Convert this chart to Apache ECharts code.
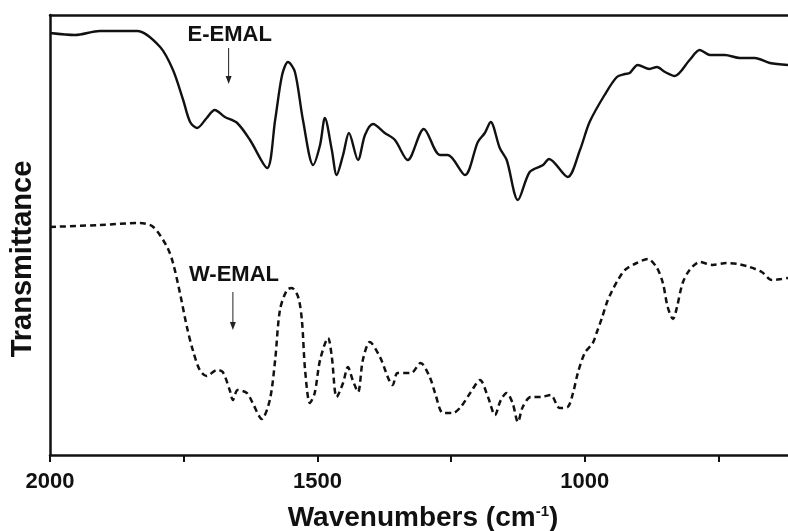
<!DOCTYPE html>
<html>
<head>
<meta charset="utf-8">
<script src="https://cdn.jsdelivr.net/npm/echarts@6/dist/echarts.min.js"></script>
<style>
  html, body { margin: 0; padding: 0; background: #fff; }
  #main { width: 788px; height: 531px; }
</style>
</head>
<body>
<div id="main"></div>
<script>
// wavenumber (cm-1), transmittance (arbitrary units)
var eEmalWn = [2000, 1953, 1907, 1837, 1794, 1770, 1751, 1738, 1725, 1707, 1692, 1673, 1650, 1626, 1594,
  1579, 1566, 1555, 1542, 1527, 1508, 1495, 1486, 1473, 1464, 1452, 1441, 1424, 1411, 1396, 1374, 1355,
  1331, 1301, 1271, 1256, 1224, 1200, 1187, 1176, 1159, 1146, 1125, 1103, 1078, 1067, 1032, 1009, 991,
  963, 940, 925, 916, 901, 879, 865, 850, 832, 804, 785, 766, 738, 710, 682, 654, 620];
var eEmalT = [422, 420, 424, 424, 408, 385, 355, 333, 327, 337, 345, 338, 332, 315, 287,
  335, 380, 393, 383, 335, 290, 310, 337, 305, 280, 300, 322, 295, 320, 331, 322, 315,
  295, 326, 300, 300, 280, 313, 322, 333, 307, 295, 255, 283, 290, 296, 278, 305, 333,
  360, 378, 381, 382, 390, 386, 388, 383, 379, 395, 405, 400, 400, 397, 397, 392, 390];

var wEmalWn = [2000, 1907, 1832, 1807, 1781, 1770, 1757, 1744, 1733, 1720, 1707, 1688, 1677, 1664, 1658,
  1649, 1632, 1621, 1604, 1589, 1579, 1570, 1557, 1548, 1536, 1529, 1523, 1514, 1505, 1495, 1480, 1473,
  1464, 1452, 1443, 1434, 1424, 1415, 1402, 1383, 1359, 1350, 1325, 1307, 1290, 1280, 1265, 1247, 1232,
  1213, 1196, 1181, 1168, 1157, 1146, 1135, 1125, 1116, 1101, 1082, 1064, 1047, 1032, 1022, 1013, 1000,
  985, 978, 968, 959, 950, 938, 925, 903, 882, 865, 854, 845, 835, 828, 817, 804, 785, 761, 735, 714,
  692, 669, 650, 632, 620];
var wEmalT = [228, 230, 232, 228, 208, 192, 162, 128, 105, 85, 79, 85, 83, 65, 55,
  65, 62, 52, 36, 55, 95, 145, 165, 167, 158, 135, 85, 52, 62, 95, 117, 98,
  58, 72, 88, 75, 63, 95, 113, 98, 70, 82, 82, 92, 78, 62, 42, 42, 48,
  63, 75, 58, 40, 55, 62, 52, 33, 48, 58, 58, 60, 47, 48, 62, 82, 102,
  112, 122, 137, 152, 163, 175, 185, 192, 196, 187, 172, 148, 136, 147, 172, 185, 193, 190, 192, 191,
  188, 183, 175, 176, 177];

var labelTicks = [2000, 1500, 1000];
var minorTicks = [2000, 1750, 1500, 1250, 1000, 750];

function pairs(xs, ys) {
  return xs.map(function (x, i) { return [x, ys[i]]; });
}

var font = 'Arial, "Liberation Sans", sans-serif';
var myChart = echarts.init(document.getElementById('main'));

var option = {
  animation: false,
  backgroundColor: '#fff',
  grid: { left: 50, top: 15, right: 0, bottom: 76, outerBoundsMode: 'none', containLabel: false },
  xAxis: [
    {
      type: 'value',
      min: 620,
      max: 2000,
      inverse: true,
      name: 'Wavenumbers (cm{sup|-1})',
      nameLocation: 'middle',
      nameGap: 49,
      nameTextStyle: {
        color: '#111', fontSize: 28, fontWeight: 'bold', fontFamily: font,
        padding: [0, 0, 0, 8],
        rich: { sup: { fontSize: 15, fontWeight: 'bold', verticalAlign: 'top', fontFamily: font, color: '#111' } }
      },
      axisLine: { lineStyle: { color: '#111', width: 2.5 } },
      axisTick: { show: true, inside: false, length: 7, lineStyle: { width: 2, color: '#111' }, customValues: minorTicks },
      axisLabel: {
        color: '#111', fontSize: 22, fontWeight: 'bold', fontFamily: font, margin: 16,
        customValues: labelTicks,
        formatter: function (v) { return String(v); }
      },
      splitLine: { show: false }
    },
    {
      type: 'value',
      position: 'top',
      min: 620,
      max: 2000,
      inverse: true,
      axisLine: { show: true, lineStyle: { color: '#111', width: 2.5 } },
      axisTick: { show: false },
      axisLabel: { show: false },
      splitLine: { show: false }
    }
  ],
  yAxis: {
    type: 'value',
    min: 0,
    max: 440,
    axisLine: { show: true, lineStyle: { color: '#111', width: 2.5 } },
    axisTick: { show: false },
    axisLabel: { show: false },
    splitLine: { show: false }
  },
  series: [
    {
      name: 'E-EMAL',
      type: 'line',
      data: pairs(eEmalWn, eEmalT),
      showSymbol: false,
      smooth: 0.3,
      lineStyle: { color: '#111', width: 2.4 }
    },
    {
      name: 'W-EMAL',
      type: 'line',
      data: pairs(wEmalWn, wEmalT),
      showSymbol: false,
      smooth: 0.3,
      lineStyle: { color: '#111', width: 2.5, type: [6, 4] }
    }
  ]
};
myChart.setOption(option);

// annotations placed in data coordinates
var notes = [
  { text: 'E-EMAL', at: [1664, 420], from: [1666, 407], to: [1666, 371] },
  { text: 'W-EMAL', at: [1656, 180], from: [1658, 163], to: [1658, 125] }
];
var graphics = [
  {
    type: 'text', x: 23, y: 259, rotation: Math.PI / 2,
    style: { text: 'Transmittance', fill: '#111', font: 'bold 29px ' + font, align: 'center', verticalAlign: 'middle' }
  }
];
notes.forEach(function (n) {
  var p = myChart.convertToPixel({ gridIndex: 0 }, n.at);
  var a = myChart.convertToPixel({ gridIndex: 0 }, n.from);
  var b = myChart.convertToPixel({ gridIndex: 0 }, n.to);
  graphics.push({
    type: 'text', x: p[0], y: p[1],
    style: { text: n.text, fill: '#111', font: 'bold 22px ' + font, align: 'center', verticalAlign: 'middle' }
  });
  graphics.push({
    type: 'line', shape: { x1: a[0], y1: a[1], x2: b[0], y2: b[1] - 6 },
    style: { stroke: '#222', lineWidth: 1 }
  });
  graphics.push({
    type: 'polygon', shape: { points: [[b[0] - 3, b[1] - 8], [b[0] + 3, b[1] - 8], [b[0], b[1]]] },
    style: { fill: '#222' }
  });
});
myChart.setOption({ graphic: graphics });
</script>
</body>
</html>
